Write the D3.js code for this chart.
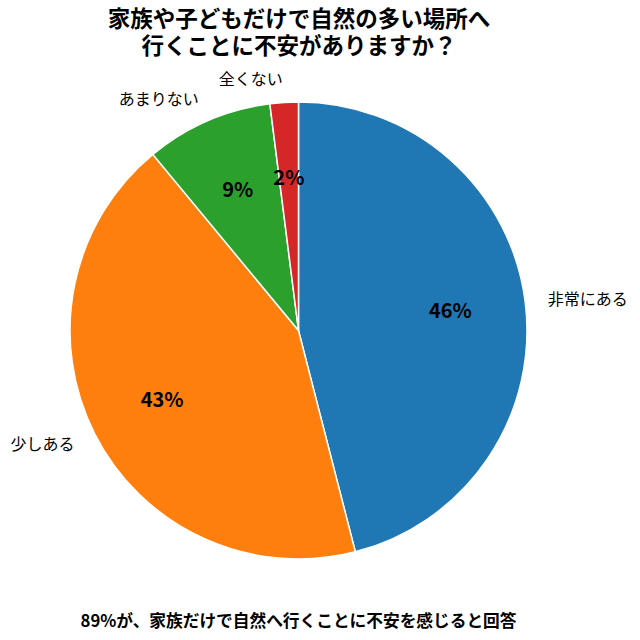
<!DOCTYPE html>
<html>
<head>
<meta charset="utf-8">
<script src="https://cdn.jsdelivr.net/npm/d3@7"></script>
<style>
  body { margin: 0; background: #fff; }
  text { font-family: "Noto Sans CJK JP", "Noto Sans", sans-serif; fill: #000; }
</style>
</head>
<body>
<svg id="chart" width="640" height="640"></svg>
<script>
// data
var categories = ['非常にある', '少しある', 'あまりない', '全くない'];
var shares = [46, 43, 9, 2];
var colors = ['#1f77b4', '#ff7f0e', '#2ca02c', '#d62728'];
var titleLines = ['家族や子どもだけで自然の多い場所へ', '行くことに不安がありますか？'];
var footnote = '89%が、家族だけで自然へ行くことに不安を感じると回答';

var svg = d3.select('#chart');
var cx = 298.5, cy = 330.5, r = 228.5;

var rows = categories.map(function(c, i) {
  return { name: c, value: shares[i], color: colors[i] };
});

// clockwise from 12 o'clock
var pie = d3.pie().sort(null).value(function(d) { return d.value; });
var arcs = pie(rows);
var arc = d3.arc().innerRadius(0).outerRadius(r);

var g = svg.append('g').attr('transform', 'translate(' + cx + ',' + cy + ')');

g.selectAll('path.slice')
  .data(arcs)
  .enter().append('path')
  .attr('class', 'slice')
  .attr('d', arc)
  .style('fill', function(d) { return d.data.color; })
  .style('stroke', '#fff')
  .style('stroke-width', 1.5);

function mid(d) { return (d.startAngle + d.endAngle) / 2; }

// category labels outside
g.selectAll('text.cat')
  .data(arcs)
  .enter().append('text')
  .attr('class', 'cat')
  .attr('x', function(d) { return 1.1 * r * Math.sin(mid(d)); })
  .attr('y', function(d) { return -1.1 * r * Math.cos(mid(d)); })
  .attr('dy', '0.35em')
  .attr('text-anchor', function(d) { return Math.sin(mid(d)) >= 0 ? 'start' : 'end'; })
  .style('font-size', '16px')
  .text(function(d) { return d.data.name; });

// percentage labels inside
g.selectAll('text.pct')
  .data(arcs)
  .enter().append('text')
  .attr('class', 'pct')
  .attr('x', function(d) { return 0.67 * r * Math.sin(mid(d)); })
  .attr('y', function(d) { return -0.67 * r * Math.cos(mid(d)); })
  .attr('dy', '0.35em')
  .attr('text-anchor', 'middle')
  .style('font-size', '20px')
  .style('font-weight', 'bold')
  .text(function(d) { return d.data.value + '%'; });

// title as one text block with two lines
var title = svg.append('text')
  .attr('class', 'title')
  .attr('text-anchor', 'middle')
  .style('font-size', '22.5px')
  .style('font-weight', 'bold');
title.selectAll('tspan')
  .data(titleLines)
  .enter().append('tspan')
  .attr('x', 299)
  .attr('y', function(d, i) { return 19 + i * 27; })
  .attr('dy', '0.35em')
  .text(function(d) { return d; });

svg.append('text')
  .attr('x', 298.5)
  .attr('y', 621)
  .attr('dy', '0.35em')
  .attr('text-anchor', 'middle')
  .style('font-size', '16.7px')
  .style('font-weight', 'bold')
  .text(footnote);
</script>
</body>
</html>
